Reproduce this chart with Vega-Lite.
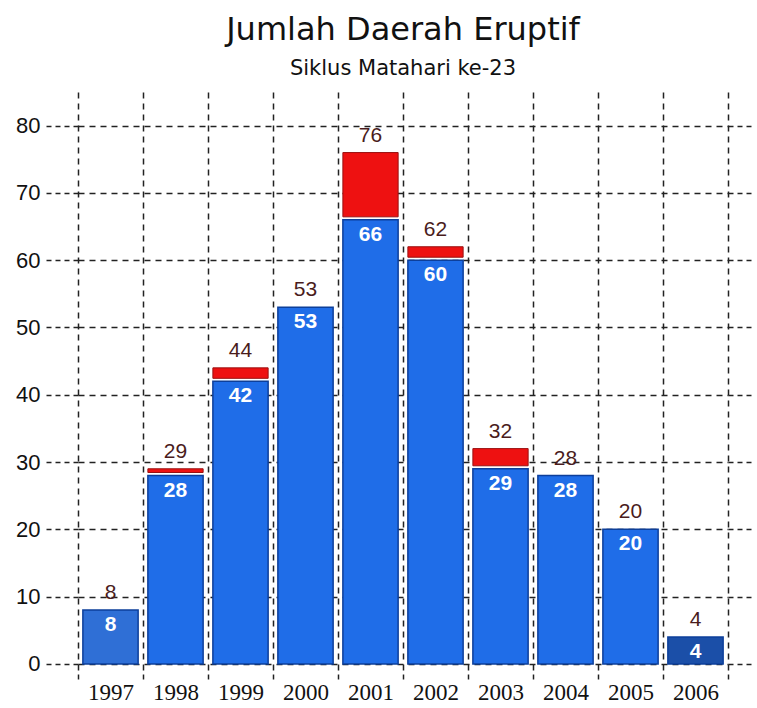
{
  "$schema": "https://vega.github.io/schema/vega-lite/v6.json",
  "width": 650,
  "height": 582,
  "padding": {"left": 15, "top": 14, "right": 5, "bottom": 5},
  "background": "white",
  "title": {
    "text": "Jumlah Daerah Eruptif",
    "subtitle": "Siklus Matahari ke-23",
    "font": "DejaVu Sans",
    "fontSize": 32,
    "fontWeight": "normal",
    "color": "#111111",
    "subtitleFont": "DejaVu Sans",
    "subtitleFontSize": 21,
    "subtitleColor": "#111111",
    "subtitlePadding": 11,
    "anchor": "middle",
    "offset": 12
  },
  "data": {
    "values": [
      {"year": "1997", "value": 8, "total": 8},
      {"year": "1998", "value": 28, "total": 29},
      {"year": "1999", "value": 42, "total": 44},
      {"year": "2000", "value": 53, "total": 53},
      {"year": "2001", "value": 66, "total": 76},
      {"year": "2002", "value": 60, "total": 62},
      {"year": "2003", "value": 29, "total": 32},
      {"year": "2004", "value": 28, "total": 28},
      {"year": "2005", "value": 20, "total": 20},
      {"year": "2006", "value": 4, "total": 4}
    ]
  },
  "encoding": {
    "x": {
      "field": "year",
      "type": "ordinal",
      "scale": {"paddingInner": 0, "paddingOuter": 0},
      "axis": {
        "title": null,
        "labelAngle": 0,
        "labelFont": "Liberation Serif",
        "labelFontSize": 23,
        "labelColor": "#111111",
        "labelPadding": 1,
        "domain": false,
        "ticks": true,
        "tickBand": "extent",
        "tickDash": [5, 4],
        "tickColor": "#222222",
        "tickWidth": 1.5,
        "tickSize": 6,
        "grid": true,
        "gridDash": [6, 5],
        "gridColor": "#222222",
        "gridWidth": 1.5,
        "gridOpacity": 1
      }
    }
  },
  "layer": [
    {
      "mark": {"type": "bar", "width": {"band": 0.85}, "stroke": "#0d3f9a", "strokeWidth": 1.5},
      "encoding": {
        "y": {
          "field": "value",
          "type": "quantitative",
          "scale": {"domain": [-1.5, 85], "nice": false},
          "axis": {
            "title": null,
            "values": [0, 10, 20, 30, 40, 50, 60, 70, 80],
            "domain": false,
            "tickSize": 33,
            "tickDash": [5, 4],
            "tickColor": "#222222",
            "tickWidth": 1.5,
            "grid": true,
            "gridDash": [6, 5],
            "gridColor": "#222222",
            "gridWidth": 1.5,
            "gridOpacity": 1,
            "labelFont": "Liberation Sans",
            "labelFontSize": 22,
            "labelColor": "#111111",
            "labelPadding": 5
          }
        },
        "y2": {"datum": 0},
        "color": {
          "condition": [
            {"test": "datum.year == '2006'", "value": "#1b4fa8"},
            {"test": "datum.year == '1997'", "value": "#2f6fd6"}
          ],
          "value": "#1f6de8"
        }
      }
    },
    {
      "transform": [{"filter": "datum.total > datum.value"}],
      "mark": {"type": "bar", "width": {"band": 0.85}, "color": "#ee1111", "stroke": "#9a1010", "strokeWidth": 1, "y2Offset": -3},
      "encoding": {
        "y": {"field": "total", "type": "quantitative", "scale": {"domain": [-1.5, 85], "nice": false}, "axis": null},
        "y2": {"field": "value"}
      }
    },
    {
      "mark": {"type": "text", "baseline": "top", "dy": 4, "color": "white", "font": "Liberation Sans", "fontSize": 21, "fontWeight": "bold"},
      "encoding": {
        "y": {"field": "value", "type": "quantitative", "scale": {"domain": [-1.5, 85], "nice": false}, "axis": null},
        "text": {"field": "value", "type": "quantitative"}
      }
    },
    {
      "mark": {"type": "text", "baseline": "bottom", "dy": -7, "color": "#4a1c1c", "font": "Liberation Sans", "fontSize": 21},
      "encoding": {
        "y": {
          "field": "total",
          "type": "quantitative",
          "scale": {"domain": [-1.5, 85], "nice": false},
          "axis": {
            "orient": "right",
            "title": null,
            "values": [0, 10, 20, 30, 40, 50, 60, 70, 80],
            "domain": false,
            "labels": false,
            "grid": false,
            "tickSize": 24,
            "tickDash": [5, 4],
            "tickColor": "#222222",
            "tickWidth": 1.5
          }
        },
        "text": {"field": "total", "type": "quantitative"}
      }
    }
  ],
  "resolve": {"axis": {"y": "independent"}},
  "config": {"view": {"stroke": null}}
}
